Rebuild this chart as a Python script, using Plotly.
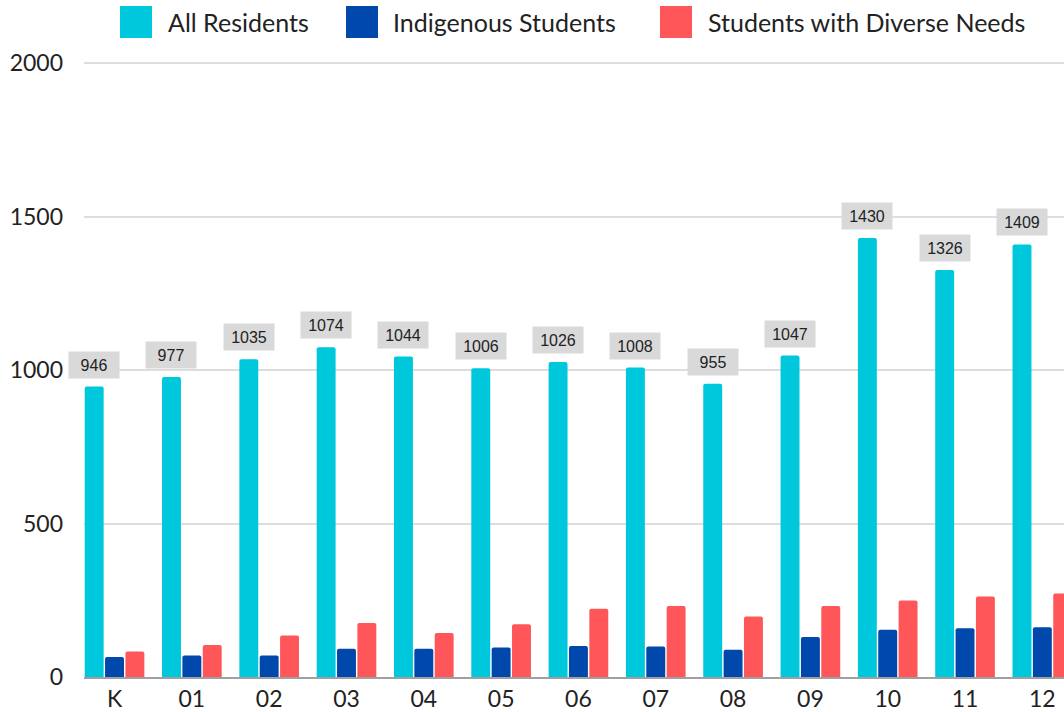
import plotly.graph_objects as go

grades = ["K", "01", "02", "03", "04", "05", "06", "07", "08", "09", "10", "11", "12"]
all_residents = [946, 977, 1035, 1074, 1044, 1006, 1026, 1008, 955, 1047, 1430, 1326, 1409]
indigenous = [65, 70, 70, 92, 92, 96, 101, 99, 89, 130, 154, 159, 162]
diverse_needs = [83, 104, 135, 176, 143, 172, 222, 231, 197, 231, 249, 262, 272]

series_names = ["All Residents", "Indigenous Students", "Students with Diverse Needs"]
colors = ["#00C8DC", "#0048AB", "#FF5759"]

FONT = "Lato"
W, H = 1064, 712
M_L, M_R, M_T, M_B = 84, 0, 60, 35
Y_MAX = 2010

fig = go.Figure()
for name, vals, col in zip(series_names, [all_residents, indigenous, diverse_needs], colors):
    fig.add_trace(go.Bar(
        x=grades, y=vals, name=name, marker_color=col,
        marker_line_width=0, showlegend=False,
        hoverinfo="x+y+name",
    ))

# value tags above the All Residents bars
for g, v in zip(grades, all_residents):
    fig.add_annotation(
        x=g, y=v, xref="x", yref="y", text=str(v), showarrow=False,
        xanchor="center", yanchor="bottom", xshift=-20.5, yshift=8,
        font=dict(family="Liberation Sans", size=16, color="#222222"),
        bgcolor="#D9D9D9", borderpad=3, width=44, height=20,
    )

# custom legend row with large swatches
plot_w = W - M_L - M_R
plot_h = H - M_T - M_B

def px_x(px):
    return (px - M_L) / plot_w

def px_y(py):
    return (H - M_B - py) / plot_h

legend_items = [(120, 166), (346, 391), (660, 706)]
for (sx, tx), name, col in zip(legend_items, series_names, colors):
    fig.add_shape(type="rect", xref="paper", yref="paper",
                  x0=px_x(sx), x1=px_x(sx + 32), y0=px_y(38), y1=px_y(6),
                  fillcolor=col, line_width=0)
    fig.add_annotation(xref="paper", yref="paper", x=px_x(tx), y=px_y(22),
                       text=name, showarrow=False, xanchor="left", yanchor="middle",
                       font=dict(family=FONT, size=25, color="#222222"))

fig.update_layout(
    width=W, height=H,
    margin=dict(l=M_L, r=M_R, t=M_T, b=M_B, pad=0),
    barmode="group", bargap=0.21, bargroupgap=0.07,
    barcornerradius=2,
    plot_bgcolor="white", paper_bgcolor="white",
    font=dict(family=FONT, size=23, color="#222222"),
)
fig.update_xaxes(
    type="category", range=[-0.395, 12.28],
    showline=True, linecolor="#A0A0A0", linewidth=2,
    showgrid=False, ticks="", tickfont=dict(size=23, color="#222222"),
)
fig.update_yaxes(
    range=[0, Y_MAX], tickvals=[0, 500, 1000, 1500, 2000],
    showgrid=True, gridcolor="#DDDDDD", gridwidth=1.5,
    zeroline=False, showline=False, ticks="",
    ticklabelstandoff=20, tickfont=dict(size=23, color="#222222"),
)

fig.write_html("out.html")
